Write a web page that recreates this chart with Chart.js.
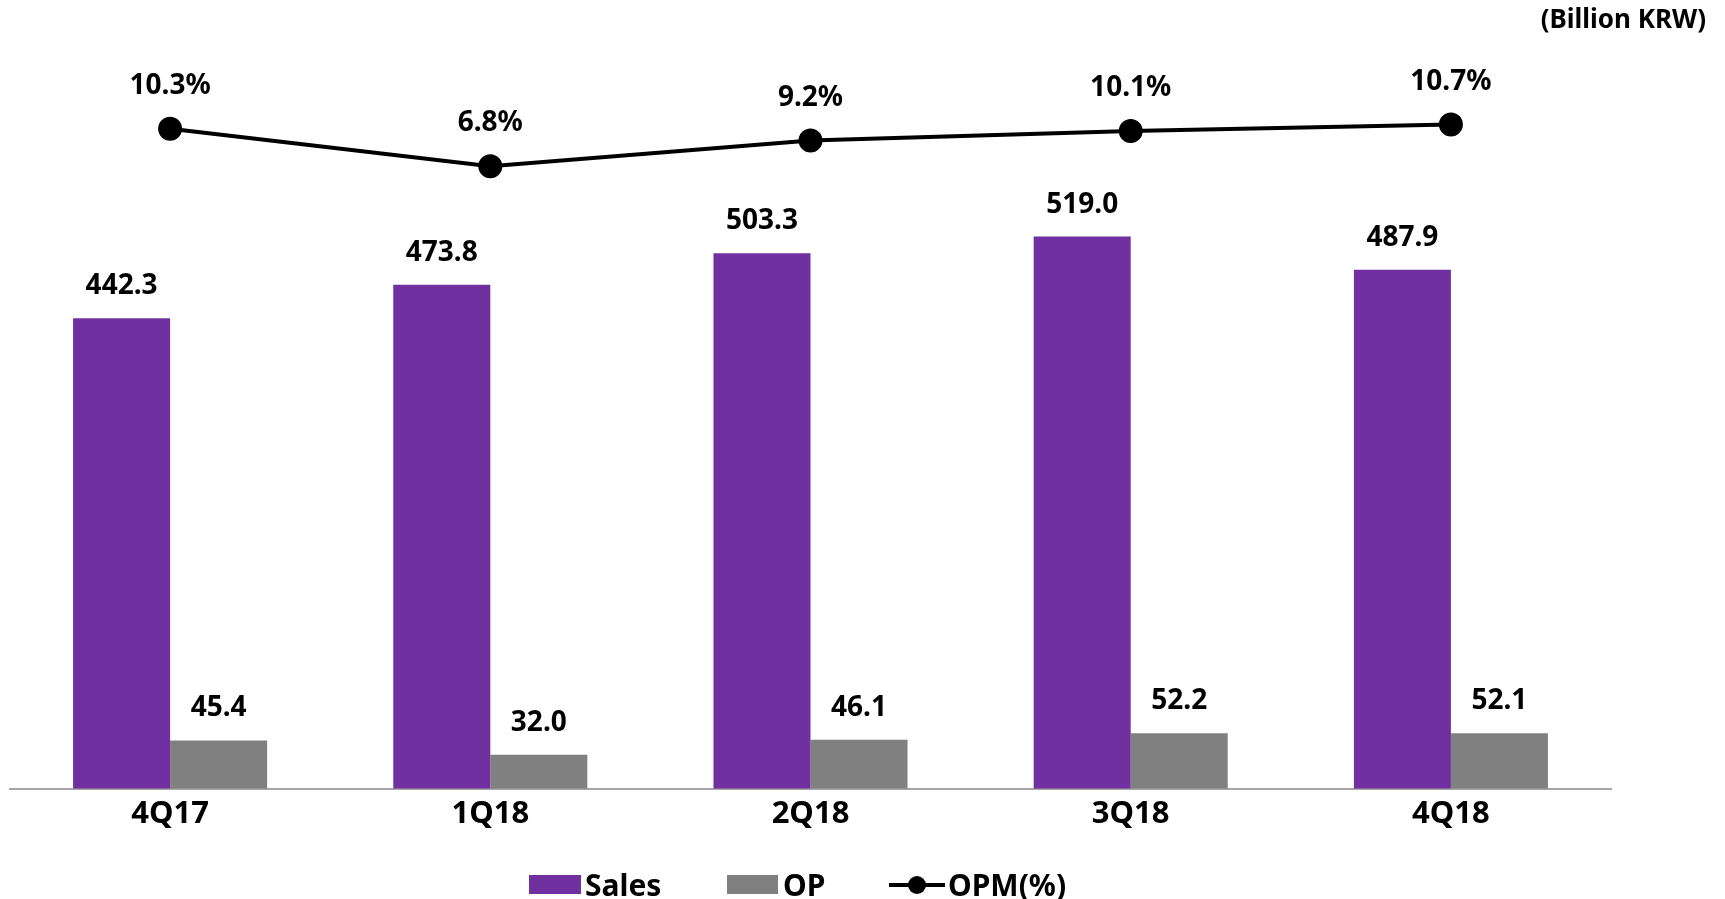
<!DOCTYPE html>
<html>
<head>
<meta charset="utf-8">
<script src="https://cdn.jsdelivr.net/npm/chart.js@4.4.1/dist/chart.umd.min.js"></script>
<style>
  body { margin: 0; background: #fff; font-family: "Noto Sans", sans-serif; }
  #wrap { position: relative; width: 1725px; height: 899px; overflow: hidden; }
  #unit { position: absolute; right: 19px; top: 0px; font-weight: bold; font-size: 26px; color: #000; }
  .lg-box { position: absolute; }
  .lg-text { position: absolute; font-weight: bold; font-size: 30px; line-height: 30px; color: #000; }
</style>
</head>
<body>
<div id="wrap">
  <canvas id="myChart" width="1725" height="899"></canvas>
  <div id="unit">(Billion KRW)</div>
  <div class="lg-box" style="left:529px;top:875px;width:52px;height:19px;background:#7030A0"></div>
  <div class="lg-text" style="left:585px;top:870px">Sales</div>
  <div class="lg-box" style="left:727px;top:875px;width:51px;height:19px;background:#808080"></div>
  <div class="lg-text" style="left:783px;top:870px">OP</div>
  <canvas id="lgLine" width="56" height="24" style="position:absolute;left:889px;top:873px"></canvas>
  <div class="lg-text" style="left:948px;top:870px">OPM(%)</div>
</div>
<script>
const categories = ['4Q17', '1Q18', '2Q18', '3Q18', '4Q18'];
const salesValues = [442.3, 473.8, 503.3, 519.0, 487.9];
const opValues = [45.4, 32.0, 46.1, 52.2, 52.1];
const opmValues = [10.3, 6.8, 9.2, 10.1, 10.7];

// small line+dot marker for the OPM legend entry
var lc = document.getElementById('lgLine').getContext('2d');
lc.strokeStyle = '#000';
lc.lineWidth = 4;
lc.beginPath(); lc.moveTo(0, 12); lc.lineTo(56, 12); lc.stroke();
lc.fillStyle = '#000';
lc.beginPath(); lc.arc(28, 12, 9, 0, Math.PI * 2); lc.fill();

// value labels above bars and points
var valueLabels = {
  id: 'valueLabels',
  afterDatasetsDraw(chart) {
    var ctx = chart.ctx;
    ctx.save();
    ctx.fillStyle = '#000';
    ctx.font = 'bold 28px "Noto Sans"';
    ctx.textAlign = 'center';
    ctx.textBaseline = 'alphabetic';
    chart.data.datasets.forEach(function (ds, i) {
      var meta = chart.getDatasetMeta(i);
      meta.data.forEach(function (el, j) {
        var v = ds.data[j];
        if (ds.type === 'line') {
          ctx.fillText(v.toFixed(1) + '%', el.x, el.y - 35);
        } else {
          ctx.fillText(v.toFixed(1), el.x, el.y - 24);
        }
      });
    });
    ctx.restore();
  }
};

var ctx = document.getElementById('myChart').getContext('2d');
var myChart = new Chart(ctx, {
  type: 'bar',
  data: {
    labels: categories,
    datasets: [
      {
        type: 'line',
        label: 'OPM(%)',
        data: opmValues,
        yAxisID: 'y2',
        borderColor: '#000',
        backgroundColor: '#000',
        borderWidth: 4,
        pointRadius: 10,
        pointHoverRadius: 10,
        tension: 0,
        order: 0
      },
      {
        label: 'Sales',
        data: salesValues,
        backgroundColor: '#7030A0',
        yAxisID: 'y',
        categoryPercentage: 0.606,
        barPercentage: 1,
        order: 1
      },
      {
        label: 'OP',
        data: opValues,
        backgroundColor: '#808080',
        yAxisID: 'y',
        categoryPercentage: 0.606,
        barPercentage: 1,
        order: 1
      }
    ]
  },
  options: {
    responsive: false,
    animation: false,
    layout: { autoPadding: false, padding: { left: 10, right: 114, top: 60, bottom: 59 } },
    plugins: {
      legend: { display: false },
      tooltip: { enabled: false }
    },
    scales: {
      x: {
        grid: { display: false, drawTicks: false },
        border: { display: true, color: '#A6A6A6', width: 2 },
        ticks: { color: '#000', font: { family: 'Noto Sans', size: 31, weight: 'bold' }, padding: 7 }
      },
      y: { display: false, min: 0, max: 685 },
      y2: { display: false, min: -51.55, max: 16.75 }
    }
  },
  plugins: [valueLabels]
});
</script>
</body>
</html>
